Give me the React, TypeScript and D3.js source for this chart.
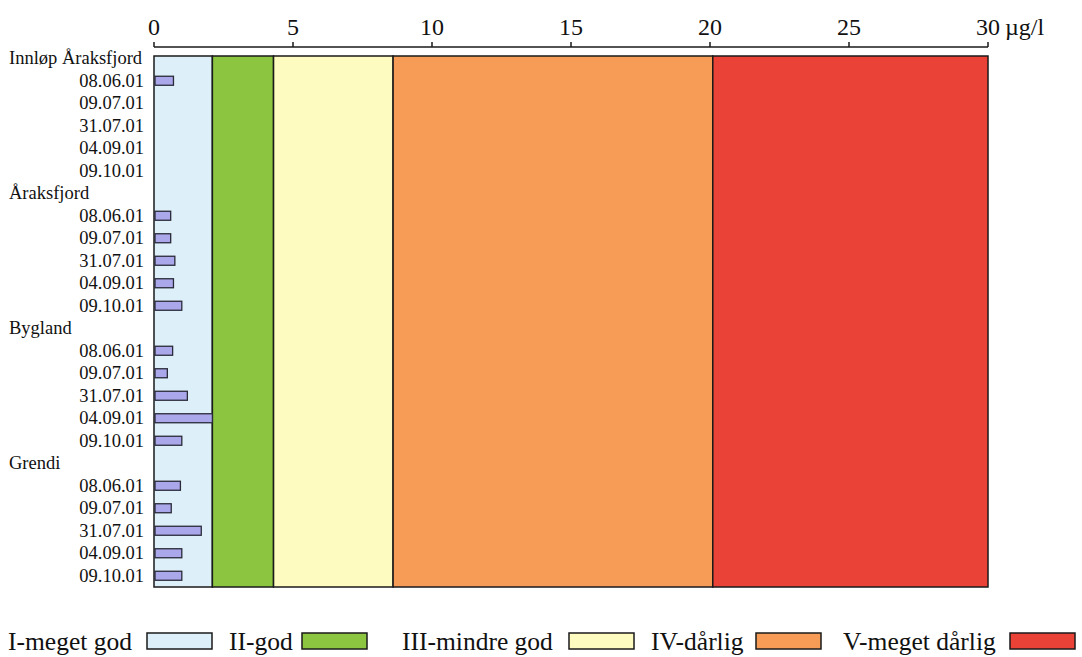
import React from "react";
import * as d3 from "d3";

const sites = ["Innløp Åraksfjord", "Åraksfjord", "Bygland", "Grendi"];
const dates = ["08.06.01", "09.07.01", "31.07.01", "04.09.01", "09.10.01"];
const innlopValues: (number | null)[] = [0.7, null, null, null, null];
const araksfjordValues: (number | null)[] = [0.6, 0.6, 0.75, 0.7, 1.0];
const byglandValues: (number | null)[] = [0.67, 0.48, 1.2, 2.1, 1.0];
const grendiValues: (number | null)[] = [0.95, 0.62, 1.7, 1.0, 1.0];
const classNames = ["I-meget god", "II-god", "III-mindre god", "IV-dårlig", "V-meget dårlig"];
const classBounds = [0, 2.1, 4.3, 8.6, 20.1, 30];
const classColors = ["#ddf0f9", "#8cc540", "#fdfbbf", "#f79c57", "#ea4237"];
const xTicks = [0, 5, 10, 15, 20, 25, 30];
const unitLabel = "µg/l";

// legend layout (text start x, box start x)
const legendTextX = [8, 229, 402, 651, 843];
const legendBoxX = [147, 302, 569, 756, 1010];

const W = 1082;
const H = 657;
const FONT = '"Liberation Serif", "DejaVu Serif", "Times New Roman", Times, serif';

export default function App() {
  const allValues = [innlopValues, araksfjordValues, byglandValues, grendiValues];
  type Row = { id: string; label: string; header: boolean; value: number | null };
  const rows: Row[] = [];
  sites.forEach((s, i) => {
    rows.push({ id: `h${i}`, label: s, header: true, value: null });
    dates.forEach((d, j) => {
      rows.push({ id: `r${i}_${j}`, label: d, header: false, value: allValues[i][j] });
    });
  });

  const x = d3.scaleLinear().domain([0, 30]).range([154, 988]);
  const y = d3.scaleBand<string>().domain(rows.map((r) => r.id)).range([47, 587]);
  const plotTop = 56;
  const plotBottom = 587;
  const axisY = 47;
  const barH = 9;
  const ts: React.CSSProperties = { fontFamily: FONT };

  return (
    <svg
      width={W}
      height={H}
      style={{ position: "absolute", left: 0, top: 0, display: "block", background: "#fff", fontFamily: FONT }}
    >
      {/* class bands */}
      {classColors.map((c, i) => (
        <rect
          key={`band${i}`}
          x={x(classBounds[i])}
          y={plotTop}
          width={x(classBounds[i + 1]) - x(classBounds[i])}
          height={plotBottom - plotTop}
          fill={c}
          stroke="#1a1a1a"
          strokeWidth={1.5}
        />
      ))}

      {/* axis */}
      <line x1={x(0)} x2={x(30)} y1={axisY} y2={axisY} stroke="#1a1a1a" strokeWidth={1.5} />
      {xTicks.map((t) => (
        <g key={`t${t}`}>
          <line x1={x(t)} x2={x(t)} y1={axisY} y2={axisY - 5} stroke="#1a1a1a" strokeWidth={1.5} />
          <text x={x(t)} y={35} fontSize={24} textAnchor="middle" fill="#111" style={ts}>
            {t}
          </text>
        </g>
      ))}
      <text x={x(30) + 17} y={35} fontSize={24} fill="#111" style={ts}>
        {unitLabel}
      </text>

      {/* row labels and bars */}
      {rows.map((r) => {
        const cy = (y(r.id) ?? 0) + y.bandwidth() / 2;
        return (
          <g key={r.id}>
            {r.header ? (
              <text x={9} y={cy + 6} fontSize={18.5} fill="#111" style={ts}>
                {r.label}
              </text>
            ) : (
              <text x={144} y={cy + 6} fontSize={18.5} textAnchor="end" fill="#111" style={ts}>
                {r.label}
              </text>
            )}
            {r.value != null && (
              <rect
                x={x(0) + 1}
                y={cy - barH / 2}
                width={x(r.value) - x(0) - 1}
                height={barH}
                fill="#aaa8ea"
                stroke="#2a2a3a"
                strokeWidth={1.3}
              />
            )}
          </g>
        );
      })}

      {/* legend */}
      {classNames.map((n, i) => (
        <g key={`lg${i}`}>
          <text x={legendTextX[i]} y={650} fontSize={25.5} fill="#111" style={ts}>
            {n}
          </text>
          <rect
            x={legendBoxX[i]}
            y={633}
            width={65}
            height={16}
            fill={classColors[i]}
            stroke="#1a1a1a"
            strokeWidth={1.5}
          />
        </g>
      ))}
    </svg>
  );
}
